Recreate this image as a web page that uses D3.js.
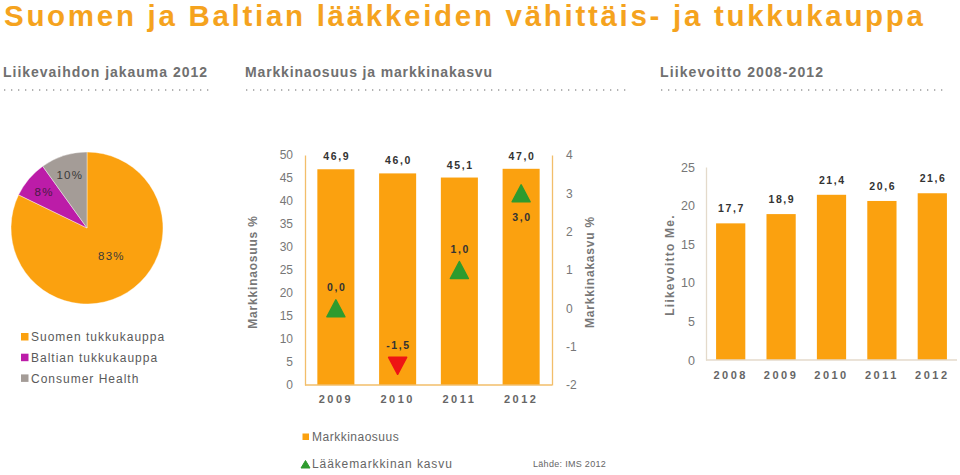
<!DOCTYPE html>
<html><head><meta charset="utf-8">
<script src="https://cdn.jsdelivr.net/npm/d3@7"></script>
<style>
html,body{margin:0;padding:0;background:#fff;}
svg{display:block;font-family:"Liberation Sans",Arial,sans-serif;}
</style></head>
<body>
<svg id="c" width="960" height="475"></svg>
<script>
// ---- data ----
const mainTitle = "Suomen ja Baltian lääkkeiden vähittäis- ja tukkukauppa";
const panelTitles = ["Liikevaihdon jakauma 2012", "Markkinaosuus ja markkinakasvu", "Liikevoitto 2008-2012"];
const pieCategories = ["Suomen tukkukauppa", "Baltian tukkukauppa", "Consumer Health"];
const pieValues = [83, 8, 10];
const pieLabels = ["83%", "8%", "10%"];
const shareYears = ["2009", "2010", "2011", "2012"];
const marketShare = [46.9, 46.0, 45.1, 47.0];
const marketGrowth = [0.0, -1.5, 1.0, 3.0];
const shareTicks = [0, 5, 10, 15, 20, 25, 30, 35, 40, 45, 50];
const growthTicks = [-2, -1, 0, 1, 2, 3, 4];
const profitYears = ["2008", "2009", "2010", "2011", "2012"];
const operatingProfit = [17.7, 18.9, 21.4, 20.6, 21.6];
const profitTicks = [0, 5, 10, 15, 20, 25];
const legend2 = ["Markkinaosuus", "Lääkemarkkinan kasvu"];
const sourceText = "Lähde: IMS 2012";

const ORANGE = "#FBA10F", MAGENTA = "#BC1CA8", GRAY = "#A49C97";
const GREEN = "#2E9B2E", RED = "#EE1414";
const fmt = v => d3.format(".1f")(v).replace(".", ",").replace("\u2212", "-");
const intFmt = v => String(v);

const svg = d3.select("#c");

// ---- titles ----
svg.append("text").attr("x", 4).attr("y", 25.5).attr("textLength", 919).attr("lengthAdjust", "spacing")
  .attr("font-size", 29.5).attr("font-weight", "bold").attr("fill", "#F5A31E").text(mainTitle);

const panelPos = [[3, 204, 212], [245, 247, 628], [660, 163, 943]];
panelTitles.forEach((t, i) => {
  const [x, w, x2] = panelPos[i];
  svg.append("text").attr("x", x).attr("y", 77).attr("textLength", w).attr("lengthAdjust", "spacing")
    .attr("font-size", 14).attr("font-weight", "bold").attr("fill", "#707070").text(t);
  svg.append("line").attr("x1", x + 1).attr("x2", x2).attr("y1", 90).attr("y2", 90)
    .attr("stroke", "#9a9a9a").attr("stroke-width", 1.3).attr("stroke-dasharray", "1.3,5.7");
});

// ---- pie ----
const pieG = svg.append("g").attr("transform", "translate(87,228)");
const pie = d3.pie().sort(null).value(d => d)(pieValues);
const R = 76;
const arc = d3.arc().innerRadius(0).outerRadius(R);
const pieColors = [ORANGE, MAGENTA, GRAY];
pieG.selectAll("path").data(pie).join("path").attr("d", arc)
  .attr("fill", (d, i) => pieColors[i]).attr("stroke", "#fff").attr("stroke-width", 0.4);
pieG.selectAll("text.pl").data(pie).join("text").attr("class", "pl")
  .attr("transform", (d, i) => {
    const r = i === 0 ? 37 : 56;
    const a = i === 0 ? (d.startAngle + d.endAngle) / 2 - 0.16 : (d.startAngle + d.endAngle) / 2;
    return `translate(${r * Math.sin(a)},${-r * Math.cos(a)})`;
  })
  .attr("text-anchor", "middle").attr("dy", "0.35em").attr("font-size", 11.5)
  .attr("letter-spacing", 1.3).attr("fill", (d, i) => i === 1 ? "#4a1a44" : "#3a3a3a")
  .text((d, i) => pieLabels[i]);

const lg = svg.append("g");
pieCategories.forEach((c, i) => {
  const y = 337 + i * 20.7;
  lg.append("rect").attr("x", 21).attr("y", y - 4).attr("width", 7.5).attr("height", 7.5).attr("fill", pieColors[i]);
  lg.append("text").attr("x", 31).attr("y", y).attr("dy", "0.35em").attr("font-size", 12)
    .attr("letter-spacing", 1).attr("fill", "#5a5a5a").text(c);
});

// ---- middle chart ----
const mx = d3.scaleBand().domain(shareYears).range([305, 552]).paddingInner(0.4).paddingOuter(0.2);
const yL = d3.scaleLinear().domain([0, 50]).range([385, 155]);
const yR = d3.scaleLinear().domain([-2, 4]).range([385, 155]);
const AX = "#F2BE6A";

const m = svg.append("g");
m.selectAll("rect.bar").data(marketShare).join("rect").attr("class", "bar")
  .attr("x", (d, i) => mx(shareYears[i])).attr("width", mx.bandwidth())
  .attr("y", d => yL(d)).attr("height", d => yL(0) - yL(d)).attr("fill", ORANGE);

const axL = m.append("g").attr("transform", "translate(305,0)")
  .call(d3.axisLeft(yL).tickValues(shareTicks).tickSize(0).tickPadding(12).tickFormat(intFmt));
axL.select(".domain").attr("stroke", AX).attr("stroke-width", 1.3);
axL.selectAll("text").attr("font-size", 12).attr("fill", "#777").attr("font-family", "Liberation Sans, Arial");

const axR = m.append("g").attr("transform", "translate(552,0)")
  .call(d3.axisRight(yR).tickValues(growthTicks).tickSize(0).tickPadding(14).tickFormat(intFmt));
axR.select(".domain").attr("stroke", AX).attr("stroke-width", 1.3);
axR.selectAll("text").attr("font-size", 12).attr("fill", "#777").attr("font-family", "Liberation Sans, Arial");

const axB = m.append("g").attr("transform", "translate(0,385)")
  .call(d3.axisBottom(mx).tickSize(0).tickPadding(10));
axB.select(".domain").attr("stroke", AX).attr("stroke-width", 1.3).attr("d", "M305,0H552");
axB.selectAll("text").attr("font-size", 11).attr("font-weight", "bold").attr("letter-spacing", 2.5)
  .attr("fill", "#666").attr("font-family", "Liberation Sans, Arial").attr("dy", "0.75em");

m.selectAll("text.sv").data(marketShare).join("text").attr("class", "sv")
  .attr("x", (d, i) => mx(shareYears[i]) + mx.bandwidth() / 2 + 0.8).attr("y", d => yL(d) - 9)
  .attr("text-anchor", "middle").attr("font-size", 10.5).attr("font-weight", "bold")
  .attr("letter-spacing", 1.6).attr("fill", "#333").text(d => fmt(d));

// growth triangles
const tw = 9, th = 8.5;
m.selectAll("path.tri").data(marketGrowth).join("path").attr("class", "tri")
  .attr("d", (d, i) => {
    const cx = mx(shareYears[i]) + mx.bandwidth() / 2, cy = yR(d);
    return d >= 0
      ? `M${cx},${cy - th}L${cx + tw},${cy + th}L${cx - tw},${cy + th}Z`
      : `M${cx - tw},${cy - th}L${cx + tw},${cy - th}L${cx},${cy + th}Z`;
  })
  .attr("fill", d => d >= 0 ? GREEN : RED).attr("stroke", d => d >= 0 ? GREEN : RED)
  .attr("stroke-width", 1.5).attr("stroke-linejoin", "round");
m.selectAll("text.gv").data(marketGrowth).join("text").attr("class", "gv")
  .attr("x", (d, i) => mx(shareYears[i]) + mx.bandwidth() / 2 + 0.8)
  .attr("y", (d, i) => {
    const above = yR(d) - 21;
    return above < yL(marketShare[i]) + 20 ? yR(d) + 24 : above;
  })
  .attr("dy", "0.35em").attr("text-anchor", "middle").attr("font-size", 10.5).attr("font-weight", "bold")
  .attr("letter-spacing", 1.6).attr("fill", "#333").text(d => fmt(d));

svg.append("text").attr("transform", "translate(257,272) rotate(-90)").attr("text-anchor", "middle")
  .attr("font-size", 12).attr("font-weight", "bold").attr("letter-spacing", 0.8).attr("fill", "#777")
  .text("Markkinaosuus %");
svg.append("text").attr("transform", "translate(594,272) rotate(-90)").attr("text-anchor", "middle")
  .attr("font-size", 12).attr("font-weight", "bold").attr("letter-spacing", 0.8).attr("fill", "#777")
  .text("Markkinakasvu %");

// ---- right chart ----
const px = d3.scaleBand().domain(profitYears).range([706, 957]).paddingInner(0.42).paddingOuter(0.2);
const yP = d3.scaleLinear().domain([0, 25]).range([360, 167]);
const AX2 = "#E4DACB";
const p = svg.append("g");
p.selectAll("rect").data(operatingProfit).join("rect")
  .attr("x", (d, i) => px(profitYears[i])).attr("width", px.bandwidth())
  .attr("y", d => yP(d)).attr("height", d => yP(0) - yP(d)).attr("fill", ORANGE);
const pyA = p.append("g").attr("transform", "translate(706,0)")
  .call(d3.axisLeft(yP).tickValues(profitTicks).tickSize(0).tickPadding(11).tickFormat(intFmt));
pyA.select(".domain").attr("stroke", AX2).attr("stroke-width", 1.3);
pyA.selectAll("text").attr("font-size", 12.5).attr("fill", "#777").attr("font-family", "Liberation Sans, Arial");
const pxA = p.append("g").attr("transform", "translate(0,360)")
  .call(d3.axisBottom(px).tickSize(0).tickPadding(11));
pxA.select(".domain").attr("stroke", AX2).attr("stroke-width", 1.3).attr("d", "M706,0H957");
pxA.selectAll("text").attr("font-size", 11).attr("font-weight", "bold").attr("letter-spacing", 2.5)
  .attr("fill", "#666").attr("font-family", "Liberation Sans, Arial").attr("dy", "0.75em");
p.selectAll("text.pv").data(operatingProfit).join("text").attr("class", "pv")
  .attr("x", (d, i) => px(profitYears[i]) + px.bandwidth() / 2 + 0.8).attr("y", d => yP(d) - 11)
  .attr("text-anchor", "middle").attr("font-size", 10.5).attr("font-weight", "bold")
  .attr("letter-spacing", 1.6).attr("fill", "#333").text(d => fmt(d));
svg.append("text").attr("transform", "translate(674,265) rotate(-90)").attr("text-anchor", "middle")
  .attr("font-size", 12).attr("font-weight", "bold").attr("letter-spacing", 1.2).attr("fill", "#777")
  .text("Liikevoitto Me.");

// ---- bottom legend ----
svg.append("rect").attr("x", 302.5).attr("y", 433.5).attr("width", 6.5).attr("height", 6.5).attr("fill", ORANGE);
svg.append("text").attr("x", 312).attr("y", 437).attr("dy", "0.35em").attr("font-size", 12)
  .attr("letter-spacing", 0.5).attr("fill", "#666").text(legend2[0]);
svg.append("path").attr("d", "M305.5,460.5L310,468L301,468Z").attr("fill", GREEN).attr("stroke", GREEN)
  .attr("stroke-width", 1).attr("stroke-linejoin", "round");
svg.append("text").attr("x", 312).attr("y", 464).attr("dy", "0.35em").attr("font-size", 12)
  .attr("letter-spacing", 0.9).attr("fill", "#666").text(legend2[1]);
svg.append("text").attr("x", 533).attr("y", 464).attr("dy", "0.35em").attr("font-size", 9)
  .attr("letter-spacing", 0.3).attr("fill", "#666").text(sourceText);
</script>
</body></html>
